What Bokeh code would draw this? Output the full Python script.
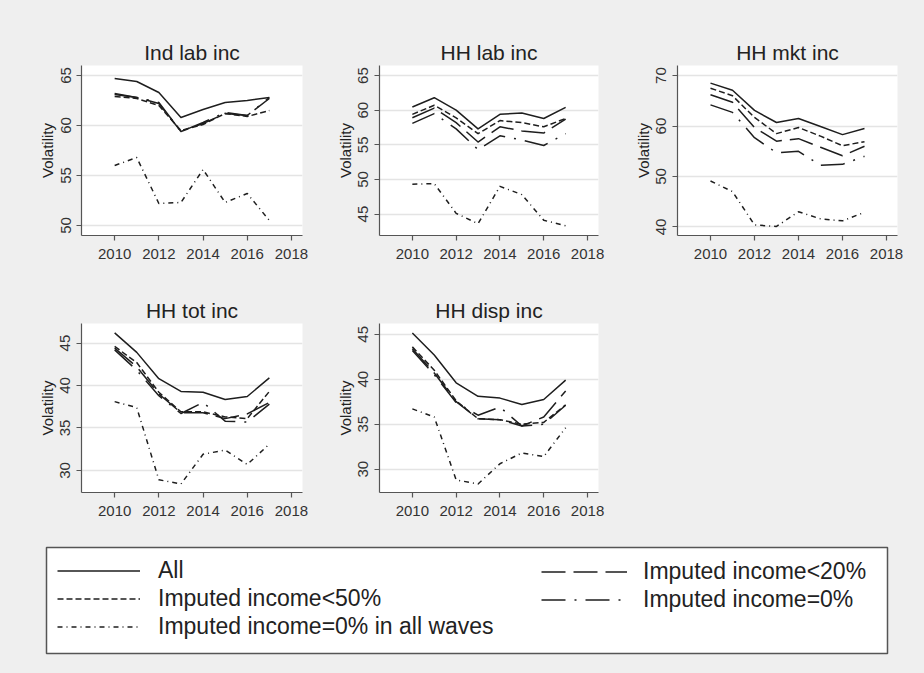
from bokeh.plotting import figure
from bokeh.layouts import column, row
from bokeh.models import Legend, LegendItem, Range1d, FixedTicker
from bokeh.embed import file_html
from bokeh.resources import INLINE

# ---------------- data ----------------
years = [2010, 2011, 2012, 2013, 2014, 2015, 2016, 2017]
x_ticks = [2010, 2012, 2014, 2016, 2018]
series_labels = ["All", "Imputed income<20%", "Imputed income<50%",
                 "Imputed income=0%", "Imputed income=0% in all waves"]

# Ind lab inc
ind_all = [64.7, 64.4, 63.3, 60.8, 61.6, 62.3, 62.5, 62.8]
ind_lt20 = [63.1, 62.8, 62.2, 59.4, 60.2, 61.2, 61.0, 62.7]
ind_lt50 = [62.9, 62.7, 62.0, 59.5, 60.1, 61.2, 60.9, 61.5]
ind_eq0 = [63.2, 62.8, 62.3, 59.4, 60.3, 61.3, 61.0, 62.8]
ind_allw = [56.0, 56.8, 52.2, 52.3, 55.6, 52.3, 53.2, 50.5]
ind_yticks = [50, 55, 60, 65]
ind_yrange = [49.0, 66.0]

# HH lab inc
hhl_all = [60.45, 61.8, 60.0, 57.3, 59.4, 59.6, 58.8, 60.4]
hhl_lt20 = [58.9, 60.3, 58.2, 55.4, 57.6, 57.0, 56.7, 58.7]
hhl_lt50 = [59.4, 60.7, 58.9, 56.6, 58.5, 58.2, 57.6, 58.8]
hhl_eq0 = [58.1, 59.5, 57.3, 54.3, 56.3, 55.7, 54.9, 56.6]
hhl_allw = [49.3, 49.4, 45.1, 43.6, 49.0, 47.8, 44.1, 43.3]
hhl_yticks = [45, 50, 55, 60, 65]
hhl_yrange = [41.9, 66.45]

# HH mkt inc
hhm_all = [68.5, 67.1, 63.1, 60.7, 61.5, 59.9, 58.3, 59.5]
hhm_lt20 = [66.2, 64.7, 59.7, 57.0, 57.5, 55.8, 54.1, 56.0]
hhm_lt50 = [67.5, 66.0, 61.7, 58.5, 59.7, 58.0, 56.1, 56.9]
hhm_eq0 = [64.2, 62.7, 57.7, 54.7, 55.0, 52.2, 52.4, 54.0]
hhm_allw = [49.1, 47.0, 40.4, 40.1, 43.0, 41.6, 41.2, 42.9]
hhm_yticks = [40, 50, 60, 70]
hhm_yrange = [38.3, 72.0]

# HH tot inc
hht_all = [46.2, 43.9, 40.8, 39.3, 39.2, 38.35, 38.7, 40.9]
hht_lt20 = [44.4, 42.2, 39.0, 36.8, 36.8, 36.1, 36.65, 38.0]
hht_lt50 = [44.6, 42.7, 39.2, 36.9, 36.9, 36.3, 36.1, 39.3]
hht_eq0 = [44.2, 41.8, 38.8, 36.7, 38.0, 35.8, 35.7, 37.8]
hht_allw = [38.1, 37.4, 28.9, 28.4, 31.9, 32.4, 30.7, 33.1]
hht_yticks = [30, 35, 40, 45]
hht_yrange = [27.4, 47.3]

# HH disp inc
hhd_all = [45.15, 42.7, 39.6, 38.1, 37.9, 37.2, 37.75, 39.9]
hhd_lt20 = [43.4, 40.7, 37.5, 35.6, 35.5, 34.8, 35.8, 38.7]
hhd_lt50 = [43.6, 41.0, 37.6, 35.6, 35.5, 35.0, 35.2, 37.15]
hhd_eq0 = [43.2, 40.5, 37.4, 36.0, 36.9, 34.8, 35.0, 37.1]
hhd_allw = [36.7, 35.8, 28.8, 28.35, 30.6, 31.8, 31.4, 34.6]
hhd_yticks = [30, 35, 40, 45]
hhd_yrange = [27.4, 46.2]

# ---------------- styling ----------------
BG = "#efefef"
LINE_COLOR = "#1e1e1e"
FONT = "Liberation Sans"
DASHES = {
    "All": "solid",
    "Imputed income<20%": "24 8",
    "Imputed income<50%": "6 3",
    "Imputed income=0%": "24 9 2 9",
    "Imputed income=0% in all waves": "5 4 1 4",
}


def make_panel(title, series, yticks, yrange, width, height, lb, rb, tb, fh):
    p = figure(width=width, height=height, output_backend="svg", toolbar_location=None,
               x_range=Range1d(2008.5, 2018.5), y_range=Range1d(yrange[0], yrange[1]),
               min_border_left=lb, min_border_right=rb, min_border_top=tb,
               min_border_bottom=height - tb - fh)
    p.background_fill_color = "white"
    p.border_fill_color = BG
    p.outline_line_color = None
    p.title.text = title
    p.title.align = "center"
    p.title.text_font = FONT
    p.title.text_font_size = "21px"
    p.title.text_font_style = "normal"
    p.title.text_color = "#222222"
    p.title.standoff = 4
    p.xgrid.visible = False
    p.ygrid.grid_line_color = "#e4e4e4"
    p.ygrid.grid_line_width = 1.5
    p.xaxis.ticker = FixedTicker(ticks=x_ticks)
    p.yaxis.ticker = FixedTicker(ticks=yticks)
    for ax in (p.xaxis[0], p.yaxis[0]):
        ax.axis_line_color = "#555555"
        ax.axis_line_width = 1.2
        ax.major_tick_line_color = "#555555"
        ax.major_tick_line_width = 1.2
        ax.major_tick_out = 5
        ax.major_tick_in = 0
        ax.minor_tick_line_color = None
        ax.major_label_text_font = FONT
        ax.major_label_text_font_size = "15px"
        ax.major_label_text_color = "#333333"
    p.xaxis.major_label_standoff = 8
    p.yaxis.major_label_orientation = "vertical"
    p.yaxis.major_label_standoff = 6
    p.yaxis.axis_label = "Volatility"
    p.yaxis.axis_label_text_font = FONT
    p.yaxis.axis_label_text_font_size = "15px"
    p.yaxis.axis_label_text_font_style = "normal"
    p.yaxis.axis_label_text_color = "#222222"
    p.yaxis.axis_label_standoff = 2
    for lab, vals in zip(series_labels, series):
        p.line(years, vals, line_color=LINE_COLOR, line_width=1.5,
               line_dash=DASHES[lab], line_join="round")
    return p


p1 = make_panel("Ind lab inc", [ind_all, ind_lt20, ind_lt50, ind_eq0, ind_allw],
                ind_yticks, ind_yrange, 320, 266, 81, 18, 65, 170)
p2 = make_panel("HH lab inc", [hhl_all, hhl_lt20, hhl_lt50, hhl_eq0, hhl_allw],
                hhl_yticks, hhl_yrange, 298, 266, 59, 20, 65, 170)
p3 = make_panel("HH mkt inc", [hhm_all, hhm_lt20, hhm_lt50, hhm_eq0, hhm_allw],
                hhm_yticks, hhm_yrange, 306, 266, 59, 27, 65, 170)
p4 = make_panel("HH tot inc", [hht_all, hht_lt20, hht_lt50, hht_eq0, hht_allw],
                hht_yticks, hht_yrange, 320, 258, 81, 18, 57, 169)
p5 = make_panel("HH disp inc", [hhd_all, hhd_lt20, hhd_lt50, hhd_eq0, hhd_allw],
                hhd_yticks, hhd_yrange, 298, 258, 59, 20, 57, 169)

# ---------------- legend ----------------
lg = figure(width=924, height=149, output_backend="svg", toolbar_location=None,
            x_axis_location=None, y_axis_location=None,
            x_range=Range1d(0, 1), y_range=Range1d(0, 1),
            min_border_left=46, min_border_right=37, min_border_top=23, min_border_bottom=20)
lg.grid.visible = False
lg.background_fill_color = "white"
lg.border_fill_color = BG
lg.outline_line_color = "#555555"
lg.outline_line_width = 1.5

# single-point lines draw nothing in the frame; they only provide legend samples
rends = {}
for lab in series_labels:
    rends[lab] = lg.line(x=[0.5], y=[0.5], line_color=LINE_COLOR, line_width=1.5,
                         line_dash=DASHES[lab])


def make_legend(labels, loc, gw, standoff):
    leg = Legend(items=[LegendItem(label=l, renderers=[rends[l]]) for l in labels],
                 location=loc, orientation="vertical")
    leg.glyph_width = gw
    leg.glyph_height = 27
    leg.label_height = 27
    leg.label_standoff = standoff
    leg.spacing = 1
    leg.padding = 0
    leg.margin = 0
    leg.label_text_font = FONT
    leg.label_text_font_size = "23px"
    leg.label_text_color = "#222222"
    leg.border_line_color = None
    leg.background_fill_alpha = 0
    return leg


lg.add_layout(make_legend([series_labels[0], series_labels[2], series_labels[4]], (11, 13), 83, 18))
lg.add_layout(make_legend([series_labels[1], series_labels[3]], (495, 40), 86, 16))

layout = column(row(p1, p2, p3), row(p4, p5), lg,
                styles={"background-color": BG})

open("out.html", "w").write(file_html(layout, INLINE))
